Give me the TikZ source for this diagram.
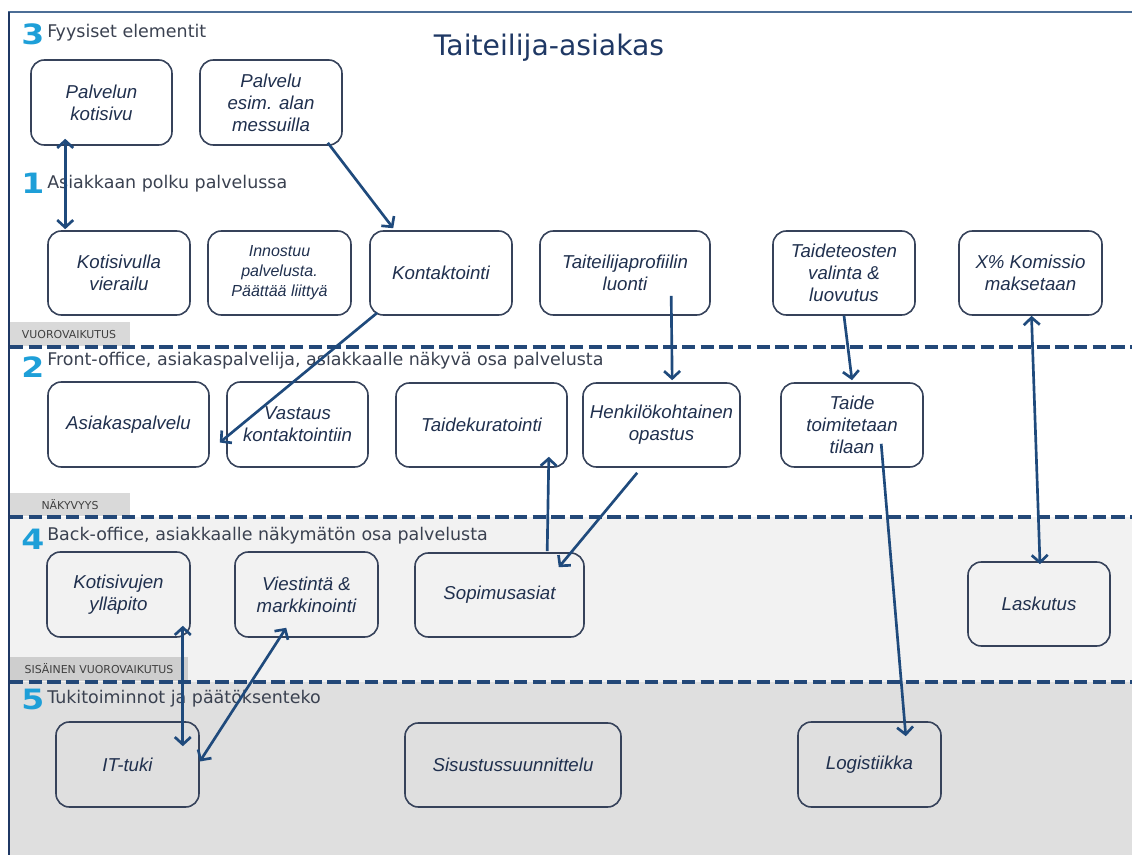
\documentclass[tikz,border=0pt]{standalone}
\usepackage{fontspec}
\usepackage{graphicx}
\setmainfont{Liberation Sans}
\newfontfamily\hdrfont{DejaVu Sans}
\usetikzlibrary{arrows.meta,calc}
\definecolor{flow}{HTML}{1F4A7C}
\definecolor{rule}{HTML}{234878}
\definecolor{boxline}{HTML}{36425A}
\definecolor{boxtext}{HTML}{20304E}
\definecolor{hdrtext}{HTML}{3A4150}
\definecolor{numcol}{HTML}{1E9FD8}
\definecolor{titlecol}{HTML}{1F3864}
\definecolor{backband}{HTML}{F2F2F2}
\definecolor{supband}{HTML}{DFDFDF}
\definecolor{tabfill}{HTML}{D9D9D9}
\newcommand\secnum[1]{\scalebox{1.18}[1]{#1}}
\begin{document}
\begin{tikzpicture}[x=0.75pt,y=-0.75pt,
  sz/.style 2 args={minimum width=#1*0.75pt, minimum height=#2*0.75pt},
  box/.style={draw=boxline, line width=1.2pt, rounded corners=10pt, align=center,
    text=boxtext, font=\itshape\fontsize{14}{16.5}\selectfont, inner sep=2pt},
  smallbox/.style={box, font=\itshape\fontsize{12}{15}\selectfont},
  arr/.style={draw=flow, line width=2pt, -{Straight Barb[length=5.5pt,width=12pt]}},
  both/.style={draw=flow, line width=2pt, {Straight Barb[length=5.5pt,width=12pt]}-{Straight Barb[length=5.5pt,width=12pt]}},
  sep/.style={draw=rule, line width=2.5pt, dash pattern=on 10pt off 4pt},
  tabtext/.style={font=\hdrfont\fontsize{8.2}{9}\selectfont, text=black!75, inner sep=0},
  hdr/.style={anchor=base west, font=\hdrfont\fontsize{13.1}{15}\selectfont, text=hdrtext, inner sep=0},
  num/.style={anchor=base west, font=\hdrfont\bfseries\fontsize{21}{21}\selectfont, text=numcol, inner sep=0}
]
\useasboundingbox (0,0) rectangle (1132,855);

% bands
\fill[backband] (10,517) rectangle (1132,682);
\fill[supband] (10,682) rectangle (1132,855);

% frame
\draw[draw=flow!80, line width=1.1pt] (8,12) -- (1132,12);
\draw[draw=titlecol, line width=1.9pt] (9,12) -- (9,855);

% tabs
\fill[tabfill] (10,322) rectangle (130,346);
\node[tabtext] (t1) at (69,335) {VUOROVAIKUTUS};
\fill[tabfill] (10,493) rectangle (130,516);
\node[tabtext] (t2) at (70,505) {NÄKYVYYS};
\fill[tabfill!95!black] (10,657) rectangle (188,681);
\node[tabtext] (t3) at (99,669) {SISÄINEN VUOROVAIKUTUS};

% separators
\draw[sep] (10,347) -- (1132,347);
\draw[sep] (10,517) -- (1132,517);
\draw[sep] (10,682) -- (1132,682);

% title
\node[font=\hdrfont\fontsize{21.2}{24}\selectfont, text=titlecol] (title) at (549,48) {Taiteilija-asiakas};

% section headings
\node[num] (n3) at (21,45) {\secnum{3}};
\node[hdr] (h3) at (47,38) {Fyysiset elementit};
\node[num] (n1) at (21,194) {\secnum{1}};
\node[hdr] (h1) at (47,189) {Asiakkaan polku palvelussa};
\node[num] (n2) at (21,378) {\secnum{2}};
\node[hdr] (h2) at (47,366) {Front-office, asiakaspalvelija, asiakkaalle näkyvä osa palvelusta};
\node[num] (n4) at (21,549) {\secnum{4}};
\node[hdr] (h4) at (47,540) {Back-office, asiakkaalle näkymätön osa palvelusta};
\node[num] (n5) at (21,709) {\secnum{5}};
\node[hdr] (h5) at (47,703) {Tukitoiminnot ja päätöksenteko};

% physical elements
\node[box, sz={141}{85}] (pk) at (101.5,102.5) {Palvelun\\kotisivu};
\node[box, sz={142}{85}] (pm) at (271,102.5) {Palvelu\\esim. alan\\messuilla};

% customer journey
\node[box, sz={142}{84}] (kv) at (119,273) {Kotisivulla\\vierailu};
\node[smallbox, sz={143}{84}] (in) at (279.5,273) {Innostuu\\palvelusta.\\Päättää liittyä};
\node[box, sz={142}{84}] (ko) at (441,273) {Kontaktointi};
\node[box, sz={170}{84}] (tp) at (625,273) {Taiteilijaprofiilin\\luonti};
\node[box, sz={142}{84}] (tv) at (844,273) {Taideteosten\\valinta \&\\luovutus};
\node[box, sz={143}{84}] (xk) at (1030.5,273) {X\% Komissio\\maksetaan};

% front office
\node[box, sz={161}{85}] (ap) at (128.5,424.5) {Asiakaspalvelu};
\node[box, sz={141}{85}] (va) at (297.5,424.5) {Vastaus\\kontaktointiin};
\node[box, sz={171}{84}] (tk) at (481.5,425) {Taidekuratointi};
\node[box, sz={157}{84}] (ho) at (661.5,425) {Henkilökohtainen\\opastus};
\node[box, sz={142}{84}] (tt) at (852,425) {Taide\\toimitetaan\\tilaan};

% back office
\node[box, sz={143}{85}] (ky) at (118.5,594.5) {Kotisivujen\\ylläpito};
\node[box, sz={143}{85}] (vm) at (306.5,594.5) {Viestintä \&\\markkinointi};
\node[box, sz={169}{84}] (sa) at (499.5,595) {Sopimusasiat};
\node[box, sz={142}{84}] (la) at (1039,604) {Laskutus};

% support
\node[box, sz={143}{85}] (it) at (127.5,764.5) {IT-tuki};
\node[box, sz={216}{84}] (ss) at (513,765) {Sisustussuunnittelu};
\node[box, sz={143}{85}] (lo) at (869.5,764.5) {Logistiikka};

% connectors
\draw[both] ($(pk.south west)+(35,-7)$) -- ($(kv.north west)+(18,-1)$);
\draw[arr] ($(pm.south east)+(-15,-3)$) -- ($(ko.north west)+(24,-2)$);
\draw[arr] ($(ko.south west)+(8,-3)$) -- ($(ap.east)+(10,18)$);
\draw[arr] ($(tp.south west)+(132,-20)$) -- ($(ho.north west)+(90,-2)$);
\draw[arr] (tv.south) -- ($(tt.north)+(0,-2)$);
\draw[both] ($(xk.south)+(1,0)$) -- ($(la.north)+(1,3)$);
\draw[arr] ($(ho.south west)+(55,5)$) -- ($(sa.north east)+(-26,15)$);
\draw[arr] ($(sa.north west)+(133,-1)$) -- ($(tk.south east)+(-19,-11)$);
\draw[arr] ($(tt.south west)+(101,-24)$) -- ($(lo.north east)+(-36,15)$);
\draw[both] ($(ky.south east)+(-8,-12)$) -- ($(it.north east)+(-17,25)$);
\draw[both] ($(vm.south west)+(52,-10)$) -- ($(it.east)+(0,-3)$);
\end{tikzpicture}
\end{document}
